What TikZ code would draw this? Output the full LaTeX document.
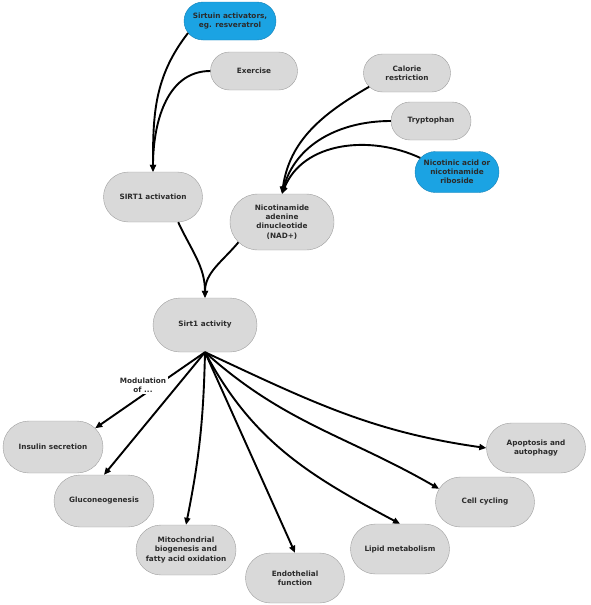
\documentclass[tikz,border=0pt]{standalone}
\usepackage{fontspec}
\setmainfont{DejaVu Sans}
\usepackage{tikz}
\usetikzlibrary{arrows.meta,shapes.misc}
\definecolor{boxgray}{HTML}{D9D9D9}
\definecolor{boxline}{HTML}{9E9E9E}
\definecolor{boxblue}{HTML}{1BA3E3}
\definecolor{txt}{HTML}{2B2B2B}

\begin{document}
\begin{tikzpicture}[x=1pt, y=1pt,
  box/.style={draw=boxline, fill=boxgray, rounded rectangle, inner sep=1pt,
              minimum width=101pt, minimum height=50pt, align=center,
              text=txt, font=\fontsize{7.3}{9.2}\selectfont\bfseries},
  small/.style={box, minimum width=89pt, minimum height=38pt},
  blue/.style={fill=boxblue, draw=boxblue!80!black},
  arr/.style={-{Triangle[length=7pt, width=6pt]}, line width=1.9pt},
]
\useasboundingbox (0,0) rectangle (590,-605);

% Inputs
\node[small, blue, minimum width=94pt] (res) at (230,-21) {Sirtuin activators,\\eg. resveratrol};
\node[small] (ex) at (254,-71) {Exercise};
\node[small] (cal) at (407,-73) {Calorie\\restriction};
\node[small, minimum width=82pt] (try) at (431,-121) {Tryptophan};
\node[small, blue, minimum width=86pt, minimum height=41pt] (nic) at (457,-172) {Nicotinic acid or\\nicotinamide\\riboside};

% Middle level
\node[box] (act) at (153,-197) {SIRT1 activation};
\node[box, minimum width=106pt, minimum height=56pt] (nad) at (282,-222) {Nicotinamide\\adenine\\dinucleotide\\(NAD+)};
\node[box, minimum width=106pt, minimum height=54pt] (sirt) at (205,-325) {Sirt1 activity};

% Outcomes
\node[box, minimum width=102pt, minimum height=52pt] (ins) at (53,-447) {Insulin secretion};
\node[box, minimum width=102pt, minimum height=52pt] (glu) at (104,-501) {Gluconeogenesis};
\node[box, minimum width=102pt] (mit) at (186,-550) {Mitochondrial\\biogenesis and\\fatty acid oxidation};
\node[box] (endo) at (295,-578) {Endothelial\\function};
\node[box] (lip) at (400,-549) {Lipid metabolism};
\node[box] (cell) at (485,-502) {Cell cycling};
\node[box] (apo) at (536,-448) {Apoptosis and\\autophagy};

% Upstream arrows
\draw[arr] (res.196) to[out=-128, in=90] (act.north);
\draw[arr] (ex.west) to[out=180, in=90] (act.north);
\draw[arr] (cal.200) to[out=-150, in=82] (nad.north);
\draw[arr] (try.west) to[out=180, in=75] (nad.north);
\draw[arr] (nic.159) to[out=155, in=68] (nad.north);
\draw[arr] (act.-45) to[out=-65, in=90] (sirt.north);
\draw[arr] (nad.205) to[out=-130, in=90] (sirt.north);

% Downstream arrows
\draw[arr] (sirt.south) -- (ins.24);
\node[fill=white, text=txt, align=center, inner sep=1.5pt,
      font=\fontsize{7.3}{9.2}\selectfont\bfseries] (mod) at (143,-385) {Modulation\\of ...};
\draw[arr] (sirt.south) -- (glu.north);
\draw[arr] (sirt.south) to[bend left=5] (mit.north);
\draw[arr] (sirt.south) -- (endo.north);
\draw[arr] (sirt.south) to[out=-62, in=152] (lip.north);
\draw[arr] (sirt.south) to[out=-42, in=150] (cell.164);
\draw[arr] (sirt.south) to[out=-25, in=172] (apo.west);
\end{tikzpicture}
\end{document}
